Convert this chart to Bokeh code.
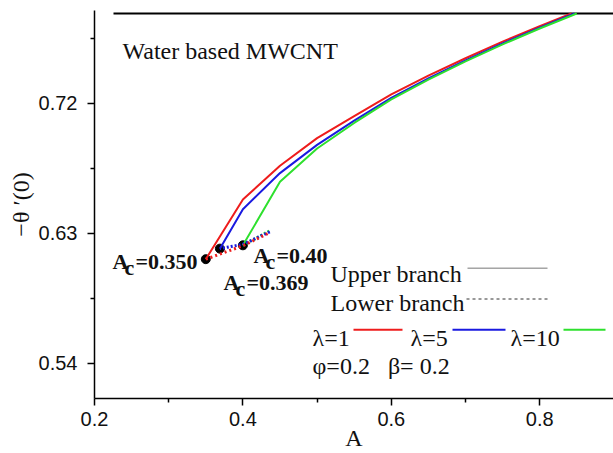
from bokeh.plotting import figure
from bokeh.models import FixedTicker, Label, Range1d
from bokeh.embed import file_html
from bokeh.resources import INLINE

# ---------------- data ----------------
A_red_up = [0.35, 0.40, 0.45, 0.50, 0.55, 0.60, 0.65, 0.70, 0.75, 0.80, 0.843]
T_red_up = [0.6119, 0.6532, 0.6766, 0.6957, 0.7110, 0.7260, 0.7390, 0.7510, 0.7625, 0.7732, 0.7820]
A_blue_up = [0.369, 0.40, 0.45, 0.50, 0.55, 0.60, 0.65, 0.70, 0.75, 0.80, 0.847]
T_blue_up = [0.6192, 0.6465, 0.6715, 0.6910, 0.7078, 0.7235, 0.7370, 0.7495, 0.7612, 0.7722, 0.7820]
A_green_up = [0.40, 0.45, 0.50, 0.55, 0.60, 0.65, 0.70, 0.75, 0.80, 0.850]
T_green_up = [0.6215, 0.6655, 0.6885, 0.7062, 0.7225, 0.7362, 0.7488, 0.7606, 0.7716, 0.7820]

A_red_lo = [0.35, 0.40, 0.437]
T_red_lo = [0.6119, 0.6212, 0.6305]
A_blue_lo = [0.369, 0.40, 0.437]
T_blue_lo = [0.6192, 0.6222, 0.6310]
A_green_lo = [0.40, 0.437]
T_green_lo = [0.6215, 0.6318]

A_crit = [0.350, 0.369, 0.40]
T_crit = [0.6119, 0.6192, 0.6215]

A_top = [0.2256, 0.8995]
T_top = [0.7820, 0.7820]

x_ticks = [0.2, 0.4, 0.6, 0.8]
x_minor = [0.3, 0.5, 0.7]
y_ticks = [0.54, 0.63, 0.72]
y_minor = [0.585, 0.675, 0.765]

RED, BLUE, GREEN = "#ee1c1c", "#1a1ae0", "#2ee02e"

# pixel -> data helpers for annotation placement
def px(x):
    return 0.2 + (x - 94) / 742.0

def py(y):
    return 0.72 + (103 - y) / 1452.0

p = figure(width=613, height=453, x_range=Range1d(0.2, px(613)), y_range=Range1d(py(400), py(10)),
           output_backend="svg", toolbar_location=None,
           min_border_left=94, min_border_right=0, min_border_top=10, min_border_bottom=53)
p.outline_line_color = None
p.xgrid.visible = False
p.ygrid.visible = False
p.background_fill_color = "white"

for ax in (p.xaxis[0], p.yaxis[0]):
    ax.axis_line_width = 1.5
    ax.axis_line_color = "black"
    ax.major_tick_in = 0
    ax.major_tick_out = 7
    ax.minor_tick_in = 0
    ax.minor_tick_out = 4
    ax.major_tick_line_width = 1.5
    ax.minor_tick_line_width = 1.5
    ax.major_label_text_font = "Liberation Sans"
    ax.major_label_text_font_size = "20px"
    ax.major_label_text_color = "#111111"
    ax.axis_label_text_font = "Liberation Serif"
    ax.axis_label_text_font_size = "24px"
    ax.axis_label_text_font_style = "normal"
    ax.axis_label_text_color = "#111111"

p.xaxis.ticker = FixedTicker(ticks=x_ticks, minor_ticks=x_minor)
p.yaxis.ticker = FixedTicker(ticks=y_ticks, minor_ticks=y_minor)
p.xaxis.major_label_overrides = {t: f"{t:.1f}" for t in x_ticks}
p.yaxis.major_label_overrides = {t: f"{t:.2f}" for t in y_ticks}
p.xaxis.major_label_standoff = 6
p.yaxis.major_label_standoff = 10
p.xaxis.axis_label = "A"
p.xaxis.axis_label_standoff = -4
p.yaxis.axis_label = "\u2212\u03b8 \u2032(0)"
p.yaxis.axis_label_standoff = 2

# top boundary line
p.line(A_top, T_top, line_color="black", line_width=2)

# critical points
p.scatter(A_crit, T_crit, size=9, fill_color="black", line_color="black")

# upper branches (solid)
p.line(A_red_up, T_red_up, line_color=RED, line_width=2)
p.line(A_blue_up, T_blue_up, line_color=BLUE, line_width=2)
p.line(A_green_up, T_green_up, line_color=GREEN, line_width=2)

# lower branches (dotted)
p.line(A_green_lo, T_green_lo, line_color=GREEN, line_width=3, line_dash="2 2")
p.line(A_blue_lo, T_blue_lo, line_color=BLUE, line_width=3, line_dash="2 2", line_dash_offset=1)
p.line(A_red_lo, T_red_lo, line_color=RED, line_width=3, line_dash="2 3")

def lab(x, y, text, size="24px", style="normal", color="#111111", align="left"):
    p.add_layout(Label(x=px(x), y=py(y), text=text, text_font="Liberation Serif",
                       text_font_size=size, text_font_style=style, text_color=color,
                       text_baseline="alphabetic", text_align=align))

lab(122, 51, "Water based MWCNT")

def ac_label(x, y, val):
    lab(x, y, "A", size="22px", style="bold")
    lab(x + 12, y + 6, "c", size="22px", style="bold")
    lab(x + 23, y, "=" + val, size="22px", style="bold")

ac_label(112, 262, "0.350")
ac_label(253, 256, "0.40")
ac_label(223, 283, "0.369")

# legend block
lab(330, 275, "Upper branch")
p.line([px(467), px(547)], [py(269), py(269)], line_color="#777777", line_width=1)
lab(330, 304, "Lower branch")
p.line([px(466), px(547)], [py(300), py(300)], line_color="#333333", line_width=1, line_dash="3 3")

lab(312, 339, "\u03bb=1")
p.line([px(353), px(402)], [py(331), py(331)], line_color=RED, line_width=2)
lab(410, 339, "\u03bb=5")
p.line([px(452), px(505)], [py(331), py(331)], line_color=BLUE, line_width=2)
lab(510, 339, "\u03bb=10")
p.line([px(563), px(605)], [py(331), py(331)], line_color=GREEN, line_width=2)

lab(312, 367, "\u03c6=0.2\u00a0\u00a0\u00a0\u03b2=\u00a00.2")

open("out.html", "w").write(file_html(p, INLINE))
